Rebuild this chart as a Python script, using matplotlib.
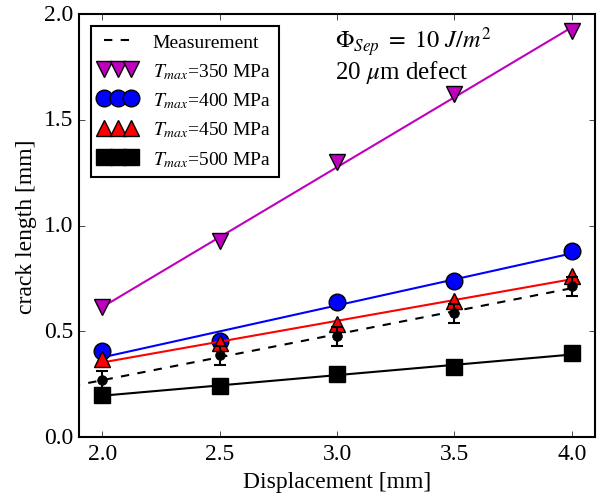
import numpy as np
import matplotlib
matplotlib.use('Agg')
import matplotlib.pyplot as plt

plt.style.use('classic')
plt.rcParams['font.family'] = ['Liberation Serif', 'DejaVu Serif']
plt.rcParams['mathtext.fontset'] = 'stix'

disp = np.array([2.0, 2.5, 3.0, 3.5, 4.0])

meas = np.array([0.27, 0.388, 0.477, 0.586, 0.714])
meas_err = np.array([0.045, 0.045, 0.045, 0.045, 0.045])

t350 = np.array([0.615, 0.927, 1.30, 1.62, 1.92])
t400 = np.array([0.407, 0.454, 0.638, 0.738, 0.879])
t450 = np.array([0.369, 0.444, 0.534, 0.643, 0.761])
t500 = np.array([0.199, 0.241, 0.30, 0.331, 0.397])

series = [(t350, 'm', 'v', r'$T_{max}$=350 MPa'),
          (t400, 'b', 'o', r'$T_{max}$=400 MPa'),
          (t450, 'r', '^', r'$T_{max}$=450 MPa'),
          (t500, 'k', 's', r'$T_{max}$=500 MPa')]

fig = plt.figure(figsize=(6.03, 5.02), dpi=100)
ax = fig.add_axes([0.131, 0.127, 0.856, 0.843])

# measurement fit, extended to the left edge
p = np.polyfit(disp, meas, 1)
xf = np.linspace(1.8, 4.0, 50)
ax.plot(xf, np.polyval(p, xf), 'k--', lw=1.5, label='Measurement')

for y, c, m, lab in series:
    p = np.polyfit(disp, y, 1)
    ax.plot(disp, np.polyval(p, disp), '-', color=c, lw=1.5)
    ax.plot(disp, y, linestyle='none', marker=m, color=c, ms=12,
            mec='k', mew=1.0)
    # legend proxy
    ax.plot([], [], linestyle='none', marker=m, color=c, ms=12,
            mec='k', mew=1.0, label=lab)

ax.errorbar(disp, meas, yerr=meas_err, fmt='ko', ms=7, capsize=4,
            elinewidth=1.5, capthick=1.5)

ax.text(2.99, 1.95, r'$\Phi_{Sep}\ =\ 10\ J/m^2$', fontsize=17.5, va='top')
ax.text(2.99, 1.79, r'20 $\mu$m defect', fontsize=18, va='top')

ax.set_xlim(1.9, 4.1)
ax.set_ylim(0.0, 2.0)
ax.set_xticks([2.0, 2.5, 3.0, 3.5, 4.0])
ax.set_yticks([0.0, 0.5, 1.0, 1.5, 2.0])
ax.tick_params(labelsize=17)
ax.set_xlabel('Displacement [mm]', fontsize=17)
ax.set_ylabel('crack length [mm]', fontsize=17)
for s in ax.spines.values():
    s.set_linewidth(1.5)

leg = ax.legend(loc='upper left', numpoints=3, fontsize=14, handlelength=2,
                borderaxespad=0.6, shadow=False)
leg.get_frame().set_linewidth(1.5)

fig.savefig('out.png', dpi=100)
